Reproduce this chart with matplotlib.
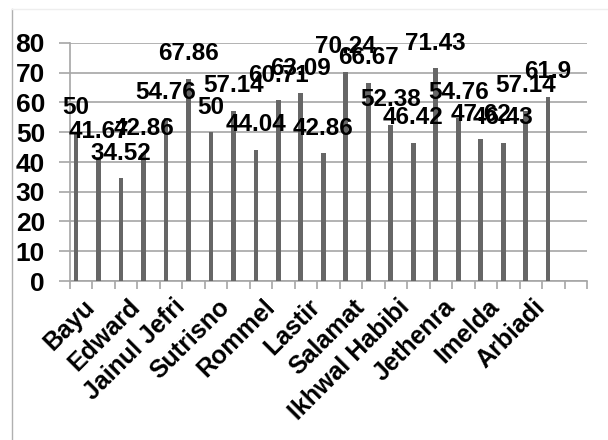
import matplotlib
matplotlib.use("Agg")
import matplotlib.pyplot as plt
from matplotlib.lines import Line2D
import matplotlib.transforms as mtransforms
import numpy as np

# nilai per siswa (22 batang, satu slot kosong di akhir)
values = [50, 41.67, 34.52, 42.86, 54.76, 67.86, 50, 57.14, 44.04, 60.71, 63.09,
          42.86, 70.24, 66.67, 52.38, 46.42, 71.43, 54.76, 47.62, 46.43, 57.14, 61.9]
names = ['Bayu', 'Edward', 'Jainul Jefri', 'Sutrisno', 'Rommel', 'Lastir',
         'Salamat', 'Ikhwal Habibi', 'Jethenra', 'Imelda', 'Arbiadi']
n_slots = 23
yticks = [0, 10, 20, 30, 40, 50, 60, 70, 80]

plt.rcParams['font.family'] = ['Liberation Sans', 'DejaVu Sans']
plt.rcParams['font.weight'] = 'bold'

fig = plt.figure(figsize=(6.08, 4.4), dpi=100)
ax = fig.add_axes([70 / 608, 1 - 281 / 440, 517 / 608, 238 / 440])

grid_c = '#a6a6a6'
x = np.arange(len(values))
ax.bar(x - 0.23, values, width=0.21, color='#666666', zorder=3)

for xi, v in zip(x, values):
    ax.annotate(f'{v:g}', (xi - 0.23, v), xytext=(0, 13.5), textcoords='offset points',
                ha='center', va='baseline', fontsize=17.5, fontweight='bold',
                color='black', zorder=4)

ax.set_xlim(-0.5, n_slots - 0.5)
ax.set_ylim(0, 80)
ax.set_yticks(yticks)
ax.yaxis.grid(True, color=grid_c, linewidth=1.2, zorder=0)
ax.tick_params(axis='y', length=8, width=1.2, color=grid_c, labelsize=19, pad=10)

# label kategori hanya tiap dua kategori
ax.set_xticks(np.arange(0, 22, 2))
ax.set_xticklabels(names, rotation=45, ha='right', va='center', rotation_mode='anchor',
                   fontsize=18, fontweight='bold')
ax.tick_params(axis='x', which='major', length=0, pad=0)
shift = mtransforms.ScaledTranslation(10 / 100, -22 / 100, fig.dpi_scale_trans)
for lab in ax.get_xticklabels():
    lab.set_transform(lab.get_transform() + shift)
ax.set_xticks(np.arange(-0.5, n_slots, 1), minor=True)
ax.tick_params(axis='x', which='minor', length=6, width=1.2, color=grid_c)

for side in ['top', 'right']:
    ax.spines[side].set_visible(False)
ax.spines['left'].set_color(grid_c)
ax.spines['left'].set_linewidth(1.2)
ax.spines['bottom'].set_color(grid_c)
ax.spines['bottom'].set_linewidth(1.2)

# bingkai area grafik (terpotong di kanan dan bawah)
fig.add_artist(Line2D([12 / 608, 12 / 608], [0, 1 - 9 / 440], color='#b0b0b0', linewidth=1))
fig.add_artist(Line2D([12 / 608, 1], [1 - 9 / 440, 1 - 9 / 440], color='#eeeeee', linewidth=1))

fig.savefig('out.png', dpi=100)
